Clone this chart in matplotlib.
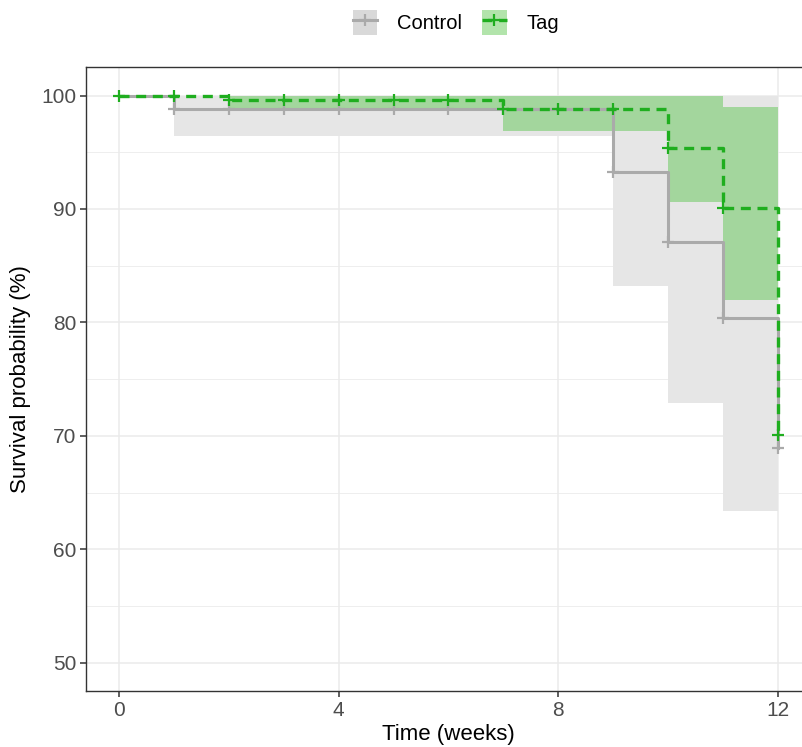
import matplotlib
matplotlib.use("Agg")
import matplotlib.pyplot as plt
from matplotlib.lines import Line2D
from matplotlib.patches import Patch

plt.rcParams['font.family'] = ['Liberation Sans', 'DejaVu Sans']

weeks = [0, 1, 2, 3, 4, 5, 6, 7, 8, 9, 10, 11, 12]

# Kaplan-Meier estimates (%) per week
control_surv = [100, 98.8, 98.8, 98.8, 98.8, 98.8, 98.8, 98.8, 98.8, 93.3, 87.1, 80.4, 68.9]
control_lower = [100, 96.4, 96.4, 96.4, 96.4, 96.4, 96.4, 96.4, 96.4, 83.2, 72.9, 63.4, 63.4]
control_upper = [100, 100, 100, 100, 100, 100, 100, 100, 100, 100, 100, 100, 100]

tag_surv = [100, 100, 99.6, 99.6, 99.6, 99.6, 99.6, 98.8, 98.8, 98.8, 95.4, 90.1, 70.1]
tag_lower = [100, 100, 98.9, 98.9, 98.9, 98.9, 98.9, 96.9, 96.9, 96.9, 90.6, 82.0, 82.0]
tag_upper = [100, 100, 100, 100, 100, 100, 100, 100, 100, 100, 100, 99.0, 99.0]

x_ticks = [0, 4, 8, 12]
y_ticks = [50, 60, 70, 80, 90, 100]

grey_line = '#aaaaaa'
green_line = '#1fae1f'
grey_fill = '#e6e6e6'
green_fill = '#48c038'

fig = plt.figure(figsize=(8.03, 7.47), dpi=100)
ax = fig.add_axes([0.107, 0.075, 0.903, 0.835])

# confidence bands
ax.fill_between(weeks, control_lower, control_upper, step='post',
                color=grey_fill, linewidth=0)
ax.fill_between(weeks, tag_lower, tag_upper, step='post',
                color=green_fill, alpha=0.42, linewidth=0)

# survival curves
ax.step(weeks, control_surv, where='post', color=grey_line, lw=2.2, zorder=3)
ax.plot(weeks[1:], control_surv[1:], '+', color=grey_line, ms=8, mew=1.6, zorder=3)
ax.step(weeks, tag_surv, where='post', color=green_line, lw=2.4,
        dashes=(3, 2), zorder=4)
ax.plot(weeks, tag_surv, '+', color=green_line, ms=8, mew=1.6, zorder=4)

ax.set_xlim(-0.6, 12.6)
ax.set_ylim(47.5, 102.5)
ax.set_xticks(x_ticks)
ax.set_yticks(y_ticks)
ax.set_yticks([55, 65, 75, 85, 95], minor=True)
ax.grid(True, which='major', color='#ebebeb', lw=1.1, zorder=0)
ax.grid(True, which='minor', axis='y', color='#ebebeb', lw=0.6, zorder=0)
ax.set_axisbelow(True)
ax.tick_params(which='minor', length=0)
ax.tick_params(which='major', length=4, width=1.1, color='#333333',
               labelsize=15, labelcolor='#4d4d4d', pad=3)
for s in ax.spines.values():
    s.set_color('#333333')
    s.set_linewidth(1.0)

ax.set_xlabel('Time (weeks)', fontsize=16, labelpad=3)
ax.set_ylabel('Survival probability (%)', fontsize=16, labelpad=7)

h_control = (Patch(facecolor='#d9d9d9', edgecolor='none'),
             Line2D([], [], color=grey_line, lw=2.2, marker='+', ms=8, mew=1.6))
h_tag = (Patch(facecolor=green_fill, alpha=0.42, edgecolor='none'),
         Line2D([], [], color=green_line, lw=2.4, dashes=(3, 2), marker='+', ms=8, mew=1.6))
fig.legend([h_control, h_tag], ['Control', 'Tag'], loc='center',
           bbox_to_anchor=(0.568, 0.97), ncol=2, frameon=False, fontsize=14.5,
           handlelength=1.2, handleheight=1.5, handletextpad=1.0, columnspacing=1.0)

fig.savefig('out.png', dpi=100)
